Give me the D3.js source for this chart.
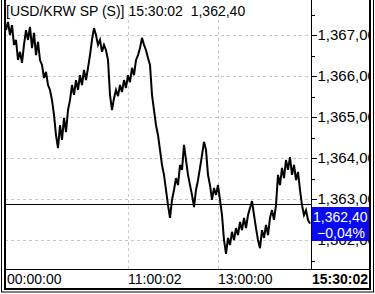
<!DOCTYPE html>
<html><head><meta charset="utf-8">
<script src="https://cdn.jsdelivr.net/npm/d3@7"></script>
<style>html,body{margin:0;padding:0;background:#fff;}svg{display:block;}</style>
</head><body>
<script>
const title = "[USD/KRW SP (S)] 15:30:02  1,362,40";
const prices = [
1367.12,1367.32,1367.00,1367.24,1366.76,1366.88,1366.39,1366.59,1366.32,1366.76,
1367.12,1366.88,1367.20,1366.68,1367.05,1366.51,1366.83,1366.39,1366.27,1365.95,
1366.10,1365.78,1365.66,1365.41,1365.05,1364.56,1364.24,1364.80,1364.44,1364.98,
1364.63,1365.17,1365.41,1365.78,1365.54,1365.90,1365.66,1366.02,1365.78,1366.15,
1365.90,1366.20,1366.51,1366.88,1367.17,1367.00,1366.76,1366.88,1366.59,1366.76,
1366.63,1366.39,1365.54,1365.17,1365.46,1365.66,1365.51,1365.78,1365.61,1365.90,
1365.71,1366.02,1365.85,1366.20,1366.02,1366.39,1366.51,1366.68,1366.93,1366.76,
1366.63,1366.44,1366.27,1365.54,1365.17,1364.80,1364.56,1364.20,1363.83,1363.59,
1363.22,1362.85,1362.54,1362.98,1363.22,1363.51,1363.34,1363.83,1363.71,1364.32,
1363.95,1363.59,1363.34,1363.10,1362.80,1363.22,1363.46,1363.76,1364.07,1364.39,
1364.20,1363.59,1363.34,1362.98,1363.27,1363.10,1363.34,1362.98,1362.61,1362.00,
1361.66,1362.05,1361.88,1362.20,1362.00,1362.29,1362.12,1362.44,1362.24,1362.54,
1362.29,1362.61,1362.78,1362.95,1362.61,1362.29,1362.00,1361.80,1362.24,1362.05,
1362.37,1362.12,1362.54,1362.73,1362.49,1362.85,1363.59,1363.34,1363.76,1363.51,
1363.95,1363.71,1364.02,1363.59,1363.83,1363.46,1363.66,1363.22,1362.85,1362.61,
1362.73,1362.49,1362.40
];
const timeLabels = ["00:00:00","11:00:02","13:00:00"];
const timeIdx = [0, 61, 106];
const lastTime = "15:30:02";
const yTicks = [1362,1363,1364,1365,1366,1367];
const yTickLabels = ["1,362,00","1,363,00","1,364,00","1,365,00","1,366,00","1,367,00"];
const yMinor = [1361.5,1362.5,1363.5,1364.5,1365.5,1366.5,1367.5];
const yDomain = [1361.293, 1367.854];
const prevClose = 1362.88;
const lastPrice = "1,362,40";
const changePct = "\u22120,04%";

const W = 375, H = 294;
const L = 5, R = 311, T = 0, B = 269;
const svg = d3.select("body").append("svg").attr("width", W).attr("height", H)
  .style("font-family", "'Liberation Sans', Arial, sans-serif");

const x = d3.scaleLinear().domain([0, prices.length - 1]).range([6, 310]);
const y = d3.scaleLinear().domain(yDomain).range([B, T]);

const defs = svg.append("defs");
defs.append("clipPath").attr("id","plot")
  .append("rect").attr("x", L+1).attr("y", T).attr("width", R-L-1).attr("height", B-T);
defs.append("clipPath").attr("id","axisclip")
  .append("rect").attr("x", R).attr("y", 0).attr("width", 369 - R).attr("height", B);

// grid
const grid = svg.append("g").attr("stroke", "#c8c8c8").attr("stroke-dasharray", "3,3").attr("shape-rendering","crispEdges");
grid.selectAll("line.h").data(yTicks).enter().append("line")
  .attr("x1", L).attr("x2", R).attr("y1", d => Math.round(y(d))+0.5).attr("y2", d => Math.round(y(d))+0.5);
grid.selectAll("line.v").data(timeIdx.slice(1)).enter().append("line")
  .attr("x1", d => Math.round(x(d))+0.5).attr("x2", d => Math.round(x(d))+0.5).attr("y1", 14).attr("y2", B);

// prev close line
svg.append("line").attr("x1", L).attr("x2", R).attr("y1", Math.round(y(prevClose))+0.5).attr("y2", Math.round(y(prevClose))+0.5)
  .attr("stroke", "#000").attr("stroke-width", 1).attr("shape-rendering","crispEdges");

// price line
svg.append("path").datum(prices).attr("clip-path","url(#plot)")
  .attr("d", d3.line().x((d,i) => x(i)).y(d => y(d)))
  .attr("fill","none").attr("stroke","#000").attr("stroke-width", 2).attr("stroke-linejoin","miter");

// y axis
const yAxis = d3.axisRight(y).tickValues(yTicks).tickSize(5).tickPadding(1)
  .tickFormat((d,i) => yTickLabels[i]);
const ga = svg.append("g").attr("clip-path","url(#axisclip)").append("g")
  .attr("transform", `translate(${R+0.5},0)`).call(yAxis);
ga.select(".domain").remove();
ga.selectAll("line").attr("stroke","#000").attr("shape-rendering","crispEdges");
ga.selectAll("text").attr("font-size", 15).attr("fill","#000").attr("font-family","'Liberation Sans', Arial, sans-serif");
const yMinorAxis = d3.axisRight(y).tickValues(yMinor).tickSize(3).tickFormat("");
const gm = svg.append("g").attr("transform", `translate(${R+0.5},0)`).call(yMinorAxis);
gm.select(".domain").remove();
gm.selectAll("line").attr("stroke","#000").attr("shape-rendering","crispEdges");

svg.append("line").attr("x1", R+0.5).attr("x2", R+0.5).attr("y1", -2).attr("y2", B)
  .attr("stroke","#000").attr("shape-rendering","crispEdges");

// last price box
const yp = y(+prices[prices.length-1]);
svg.append("rect").attr("x", R+1).attr("y", Math.round(yp) - 17).attr("width", 370 - R - 1).attr("height", 34).attr("fill", "#0a0af0");
svg.append("text").attr("x", R+2).attr("y", Math.round(yp) - 2).attr("fill","#fff").attr("font-size", 14).text(lastPrice);
svg.append("text").attr("x", 341).attr("y", Math.round(yp) + 14).attr("fill","#fff").attr("font-size", 14).attr("text-anchor","middle").text(changePct);

// time axis
svg.append("line").attr("x1", L).attr("x2", 370).attr("y1", B+0.5).attr("y2", B+0.5).attr("stroke","#000").attr("shape-rendering","crispEdges");
svg.selectAll("text.t").data(timeLabels).enter().append("text")
  .attr("x", (d,i) => Math.round(x(timeIdx[i])) + (i === 0 ? 1 : 0)).attr("y", 284)
  .attr("font-size", 14).attr("fill", "#000").text(d => d);
svg.append("text").attr("x", 368).attr("y", 284).attr("text-anchor","end").attr("font-size", 14)
  .attr("font-weight","bold").attr("fill","#000").text(lastTime);

// title
svg.append("text").attr("x", 6).attr("y", 16).attr("font-size", 14).attr("fill","#000")
  .attr("xml:space","preserve").style("white-space","pre").text(title);

// frames
svg.append("rect").attr("x", 5).attr("y", -5).attr("width", 365).attr("height", 294).attr("fill","none")
  .attr("stroke","#000").attr("stroke-width", 2);
svg.append("rect").attr("x", 1.5).attr("y", -5).attr("width", 372).attr("height", 297).attr("fill","none")
  .attr("stroke","#000").attr("stroke-width", 1);
</script>
</body></html>
